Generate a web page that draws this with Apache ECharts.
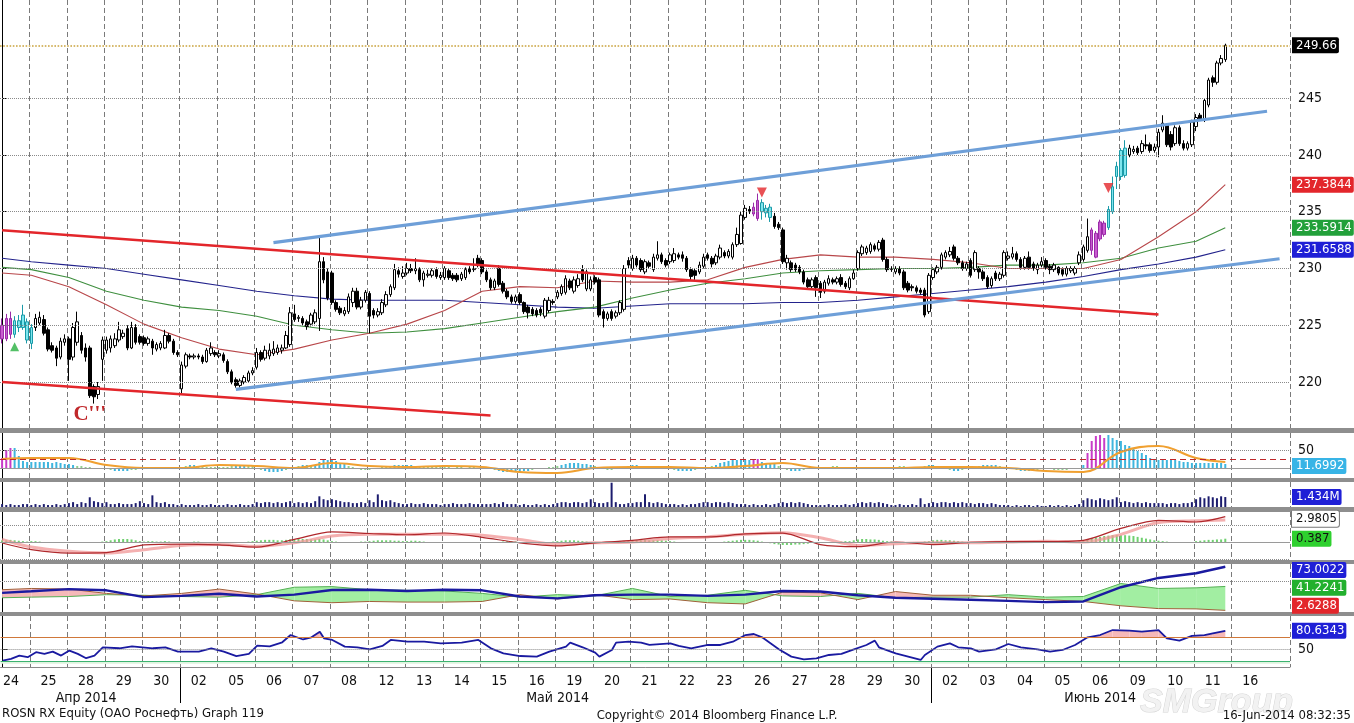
<!DOCTYPE html>
<html>
<head>
<meta charset="utf-8">
<title>ROSN RX Equity</title>
<script src="https://cdn.jsdelivr.net/npm/echarts/dist/echarts.min.js"></script>
<style>
html,body{margin:0;padding:0;background:#ffffff;overflow:hidden;}
#chart{width:1354px;height:723px;}
</style>
</head>
<body>
<div id="chart"></div>
<script>
// ================= DATA =================
const dayLabels = ['24','25','28','29','30','02','05','06','07','08','12','13','14','15','16','19','20','21','22','23','26','27','28','29','30','02','03','04','05','06','09','10','11','16'];
// [text, dayIndex, barInDay]
const monthMarks = [['Апр 2014', 2, 4], ['Май 2014', 15, 0], ['Июнь 2014', 29, 4]];
const monthBreakDays = [5, 25];

// hourly candles per trading day: [open, close, low, high]
const ohlc = [
[[225.0,223.8,223.4,225.6],[223.8,225.6,223.6,226.0],[225.6,224.2,223.8,226.2],[224.2,225.4,223.9,225.8],[225.4,224.8,224.4,225.9],[224.8,225.9,224.6,226.8],[225.3,223.7,223.4,225.6]],
[[223.4,224.8,222.9,225.1],[224.8,225.6,224.5,226.0],[225.2,225.7,225.0,226.2],[225.5,224.3,224.1,225.9],[224.6,222.9,222.7,224.8],[223.2,222.8,222.6,223.5],[223.0,222.1,221.4,223.2],[222.2,223.6,222.0,223.9],[223.5,223.8,223.2,224.2]],
[[223.8,222.0,220.1,224.0],[222.2,224.8,221.9,225.2],[223.5,225.3,223.2,226.2],[224.1,222.8,222.5,224.4],[223.0,222.2,221.8,223.4],[223.0,218.8,218.6,223.2],[219.6,218.7,218.1,219.8],[218.9,219.6,218.5,220.0],[222.0,223.7,220.1,224.0]],
[[222.8,223.7,222.5,224.0],[223.0,223.8,222.6,224.1],[223.2,223.8,223.0,224.3],[223.7,224.6,223.5,225.3],[224.0,224.3,223.8,224.6],[224.7,223.0,222.8,225.0],[223.0,224.8,222.9,225.3],[224.8,223.5,223.3,225.1],[224.0,223.5,223.3,224.2]],
[[223.9,223.4,223.2,224.1],[223.4,223.8,223.2,224.0],[223.6,223.0,222.4,223.8],[222.9,223.3,222.7,223.5],[223.0,223.4,222.8,223.6],[223.0,224.1,222.9,224.6],[224.1,223.6,223.4,224.3],[223.6,222.6,222.4,223.8],[222.6,222.4,222.2,222.8]],
[[219.4,221.5,219.0,221.8],[221.4,222.4,221.2,222.6],[222.3,222.2,222.0,222.5],[222.2,222.3,222.0,222.5],[222.3,222.2,222.0,222.5],[222.2,221.8,221.6,222.4],[221.8,222.8,221.7,223.0],[222.5,223.0,222.3,223.5],[222.6,222.4,222.2,222.8]],
[[222.3,222.5,222.1,222.8],[222.4,221.9,221.7,222.6],[221.8,220.9,220.7,222.0],[220.9,220.0,219.8,221.1],[220.2,219.7,219.5,220.4],[219.7,220.1,219.5,220.3],[220.0,220.4,219.8,220.6],[220.1,220.8,220.0,221.0],[220.8,221.0,220.6,221.3]],
[[221.3,222.6,221.1,223.0],[222.6,222.0,221.8,222.8],[222.1,222.8,221.9,223.2],[222.3,222.8,222.0,223.4],[222.5,222.9,222.3,223.6],[222.6,223.0,222.4,223.3],[222.8,223.0,222.5,223.3],[223.0,224.1,222.9,224.5],[223.3,226.1,223.1,226.6]],
[[226.0,225.5,225.3,226.8],[225.6,225.7,225.3,225.9],[225.6,225.2,225.0,225.8],[225.3,224.9,224.6,225.5],[225.1,225.9,224.9,226.1],[225.3,226.1,225.1,226.4],[225.6,230.6,224.5,232.8],[230.6,229.0,228.7,231.0],[229.7,227.4,227.2,230.0]],
[[229.6,227.0,226.8,229.8],[227.0,226.4,226.2,227.2],[226.5,226.1,225.9,226.7],[226.0,226.3,225.8,226.6],[226.2,227.5,226.0,227.8],[227.0,228.0,226.6,228.3],[228.0,226.6,226.4,228.3],[226.6,227.2,226.4,227.5],[227.2,227.9,227.0,228.1]],
[[227.8,225.8,224.3,228.0],[226.3,225.9,225.6,226.5],[225.9,226.2,225.7,226.5],[226.1,227.0,225.9,227.3],[226.8,227.7,226.6,228.0],[227.7,228.4,227.5,228.6],[228.3,229.9,228.1,230.4],[229.8,229.5,229.2,230.1],[229.3,229.6,229.1,230.2]],
[[229.6,230.0,229.4,230.5],[230.0,229.8,229.6,230.4],[229.8,230.0,229.5,230.9],[229.9,229.0,228.8,230.1],[229.0,229.6,228.4,229.8],[229.4,229.5,229.2,229.9],[229.4,229.8,229.2,230.0],[229.9,229.3,229.1,230.1],[229.2,229.4,229.0,229.7]],
[[229.2,230.0,229.0,230.2],[229.8,229.2,229.0,230.0],[229.4,229.1,228.9,229.6],[229.4,229.0,228.8,229.6],[229.1,229.5,228.9,229.7],[229.2,229.9,229.0,230.1],[230.0,229.7,229.5,230.2],[229.9,230.0,229.7,230.9],[230.9,230.3,230.1,231.2]],
[[230.7,229.7,229.5,230.9],[229.7,229.0,228.8,229.9],[229.0,228.3,228.1,229.2],[228.3,228.9,228.1,229.1],[230.0,228.6,228.4,230.3],[228.7,228.0,227.8,228.9],[228.0,227.5,227.3,228.2],[227.5,227.1,226.9,227.7],[227.1,227.5,226.9,227.7]],
[[227.7,227.0,226.8,227.9],[227.0,226.2,226.0,227.1],[226.6,226.1,225.6,226.8],[226.4,226.0,225.8,226.6],[226.3,225.9,225.7,226.5],[226.4,226.1,225.8,226.6],[225.8,227.2,225.6,227.4],[226.3,227.2,226.1,227.5],[227.1,227.0,226.8,227.3]],
[[227.5,227.9,227.3,228.1],[227.8,228.4,227.6,228.6],[227.9,229.1,227.7,229.4],[228.9,228.3,228.1,229.1],[228.0,229.0,227.8,229.3],[228.5,229.1,228.3,229.5],[229.9,229.0,228.8,230.3],[228.2,229.7,228.0,229.9],[228.2,229.0,228.0,229.3]],
[[229.2,228.8,228.6,229.4],[229.0,225.9,225.7,229.2],[226.2,225.6,224.8,226.4],[225.6,226.0,225.4,226.2],[226.2,225.6,225.4,226.4],[225.8,226.1,225.6,226.3],[226.1,227.0,225.9,227.2],[226.4,230.0,226.2,230.3],[230.7,230.3,230.0,231.0]],
[[230.0,230.9,229.8,231.2],[230.9,230.3,230.1,231.1],[230.7,229.9,229.7,230.9],[229.7,230.6,229.5,230.8],[230.5,230.2,230.0,230.7],[229.9,231.0,229.7,231.3],[230.9,231.2,230.7,232.4],[231.2,230.6,230.4,231.4],[230.7,230.3,230.1,230.9]],
[[230.6,231.2,230.4,231.4],[230.7,231.3,230.5,231.8],[231.2,231.0,230.8,231.4],[231.2,230.9,230.6,231.5],[230.9,229.9,229.7,231.1],[229.9,229.3,229.0,230.1],[229.8,229.4,229.0,230.0],[229.7,230.3,229.5,230.6],[230.2,231.0,230.0,231.3]],
[[231.2,230.9,230.7,231.4],[230.9,230.4,230.1,231.1],[230.5,231.1,230.3,231.3],[231.0,231.8,230.8,232.1],[231.4,231.1,230.9,231.6],[231.1,231.5,230.9,231.7],[231.0,232.1,230.8,232.3],[232.1,233.0,231.9,233.6],[232.2,234.7,232.1,235.0]],
[[234.5,235.3,234.3,235.6],[235.2,235.0,234.8,235.5],[234.8,235.4,234.6,235.8],[234.4,236.0,234.2,236.6],[235.8,235.0,234.3,236.1],[234.9,235.3,234.5,235.6],[235.4,234.5,234.1,235.7],[234.6,233.7,233.5,234.9],[233.9,233.6,233.4,234.1]],
[[233.4,230.6,230.4,233.6],[230.5,230.9,229.9,231.2],[230.5,229.9,229.7,230.7],[230.3,229.9,229.7,230.5],[230.1,229.7,229.5,230.3],[229.7,228.8,228.6,229.9],[229.0,228.4,228.2,229.2],[228.4,229.0,228.2,229.2],[229.2,228.3,227.5,229.4]],
[[228.7,227.9,227.4,228.9],[228.0,228.8,227.8,229.0],[228.7,229.1,228.5,229.4],[229.0,228.8,228.6,229.2],[228.8,229.1,228.6,229.3],[229.2,228.6,228.4,229.5],[228.7,228.4,228.2,228.9],[228.3,229.1,228.1,229.3],[229.1,229.6,229.0,229.9]],
[[230.0,231.4,229.8,231.6],[231.3,231.9,231.1,232.1],[231.4,231.8,231.2,232.0],[231.5,232.1,231.3,232.3],[232.0,231.7,231.5,232.2],[231.7,232.3,231.5,232.5],[232.5,230.8,230.6,232.7],[230.8,229.9,229.7,231.0],[229.9,230.0,229.7,230.2]],
[[229.7,230.0,229.5,230.2],[230.0,229.6,229.4,230.2],[229.7,228.3,228.1,229.9],[228.7,228.1,227.9,228.9],[228.4,228.3,228.0,228.6],[228.3,228.0,227.8,228.5],[228.1,227.9,227.7,228.3],[228.1,225.9,225.7,228.3],[226.2,229.4,226.0,229.6]],
[[229.2,229.9,229.0,230.1],[229.7,230.1,229.5,230.3],[230.1,231.2,229.9,231.4],[231.0,231.4,230.8,231.6],[231.2,231.5,231.0,231.9],[231.9,230.9,230.7,232.1],[230.9,230.5,230.3,231.1],[230.5,230.0,229.8,230.7],[230.0,230.4,229.8,230.6]],
[[230.7,229.4,229.2,230.9],[229.9,231.4,229.7,231.6],[230.0,229.7,229.1,230.2],[229.7,229.1,228.9,229.9],[229.2,228.4,228.2,229.4],[228.5,229.1,228.3,229.3],[229.6,229.1,228.9,229.8],[229.1,229.5,228.9,229.7],[229.4,231.4,229.2,231.6]],
[[230.9,231.1,230.7,231.5],[231.0,231.3,230.8,231.9],[231.3,230.8,230.6,231.5],[230.8,230.1,229.9,231.0],[230.1,230.9,229.9,231.1],[231.0,230.1,229.9,231.5],[230.4,230.0,229.8,230.6],[229.9,230.3,229.5,230.5],[230.3,230.6,230.1,231.0]],
[[230.7,230.1,229.9,230.9],[230.2,229.9,229.5,230.4],[229.9,230.3,229.7,230.5],[230.1,229.6,229.4,230.2],[229.9,229.5,229.3,230.1],[229.5,230.0,229.3,230.2],[229.8,230.0,229.6,230.2],[229.6,230.0,229.4,230.2],[230.5,231.2,230.3,231.5]],
[[230.8,231.9,230.6,232.1],[231.6,232.8,231.4,234.4],[233.4,231.6,231.2,233.6],[231.0,233.1,230.9,233.3],[232.6,234.1,232.4,234.3],[234.0,233.0,232.8,234.2],[233.6,235.2,233.4,235.5],[235.0,237.2,234.8,238.1],[239.0,238.1,237.0,239.4]],
[[238.1,240.4,237.8,240.6],[238.2,240.6,238.0,241.3],[240.0,240.6,239.8,240.9],[240.3,240.5,240.1,240.8],[240.6,240.2,240.0,240.8],[240.3,241.0,240.1,241.3],[240.9,240.8,240.5,241.8],[240.9,240.4,240.2,241.1],[240.4,240.7,240.2,241.0]],
[[240.7,242.0,239.8,242.3],[242.2,242.8,242.0,243.5],[242.6,240.9,240.7,242.8],[241.8,240.7,240.4,242.1],[241.0,242.4,240.8,242.6],[242.4,241.0,240.8,242.6],[241.0,240.6,240.4,241.3],[240.6,241.0,240.4,241.2],[240.9,242.9,240.7,243.1]],
[[242.5,243.3,242.1,243.6],[243.5,243.2,243.0,243.7],[243.1,244.8,242.9,245.0],[244.4,246.6,244.2,246.8],[246.8,246.4,246.0,247.0],[246.4,248.1,246.2,248.3],[248.1,248.5,247.9,248.8],[248.4,249.66,248.2,249.8]]
];

// volume, millions of shares per hourly bar
const volumeM = [
[0.42,0.28,0.42,0.28,0.28,0.42,0.42],
[0.28,0.42,0.28,0.42,0.28,0.28,0.42,0.28,0.42],
[0.56,0.7,0.42,0.7,0.56,1.4,0.84,0.7,0.56],
[0.7,0.42,0.42,0.56,0.42,0.42,0.42,0.56,0.84],
[0.56,0.42,1.68,0.7,0.56,0.7,0.42,0.42,0.28],
[0.42,0.28,0.28,0.28,0.42,0.28,0.28,0.42,0.28],
[0.28,0.28,0.42,0.28,0.28,0.42,0.28,0.28,0.42],
[0.7,0.56,0.7,0.7,0.56,0.7,0.56,0.7,0.84],
[0.56,0.7,0.56,0.7,0.56,0.84,1.54,1.12,0.98],
[1.12,0.98,0.84,0.7,0.7,0.56,0.56,0.7,0.56],
[0.98,0.7,1.82,0.98,0.84,0.98,0.7,0.56,0.42],
[0.42,0.56,0.42,0.42,0.56,0.42,0.42,0.42,0.28],
[0.42,0.42,0.56,0.42,0.42,0.42,0.56,0.42,0.42],
[0.42,0.42,0.42,0.56,0.42,0.7,0.42,0.42,0.42],
[0.28,0.42,0.28,0.28,0.42,0.28,0.42,0.28,0.42],
[0.56,0.7,0.7,0.56,0.7,0.7,0.56,0.7,1.12],
[0.7,0.56,0.56,0.7,3.5,0.7,0.42,0.42,0.56],
[0.56,0.7,0.7,1.82,0.7,0.56,0.7,0.56,0.42],
[0.42,0.42,0.28,0.42,0.28,0.42,0.42,0.56,0.7],
[0.7,0.56,0.7,0.7,0.56,0.7,0.56,0.42,0.42],
[0.42,0.28,0.42,0.28,0.28,0.42,0.28,0.42,0.56],
[0.7,0.56,0.7,0.56,0.7,0.56,0.42,0.28,0.28],
[0.28,0.28,0.42,0.28,0.28,0.28,0.42,0.28,0.42],
[0.56,0.7,0.56,0.7,0.56,0.7,0.56,0.42,0.28],
[0.28,0.42,0.28,0.28,0.42,0.28,1.26,0.42,0.56],
[0.7,0.56,0.7,0.7,0.56,0.7,0.56,0.7,0.56],
[0.56,0.42,0.56,0.56,0.42,0.56,0.42,0.28,0.28],
[0.28,0.14,0.28,0.14,0.28,0.28,0.14,0.28,0.14],
[0.14,0.28,0.14,0.28,0.14,0.28,0.14,0.28,0.42],
[0.98,1.26,1.12,0.98,1.26,1.12,0.98,1.12,1.4],
[0.7,0.84,0.7,0.56,0.7,0.56,0.7,0.56,0.56],
[0.56,0.56,0.42,0.56,0.56,0.42,0.56,0.56,0.7],
[1.12,1.4,1.26,1.54,1.4,1.26,1.54,1.434]
];

// trend-strength histogram (panel 2)
const trendHist = [
[10,18,20,20,12,7,6],
[6,6,6,6,6,5,6,5,4],
[4,3,2,2,1,1,0,-1,-1],
[-1,-2,-3,-3,-3,-3,-2,-2,-1],
[-1,1,1,-1,1,1,1,-1,1],
[1,2,3,3,2,1,1,1,1],
[1,1,1,2,3,3,3,2,2],
[-1,-2,-3,-4,-4,-4,-3,-2,-1],
[1,2,3,3,2,3,6,8,8],
[8,7,5,4,2,1,-1,-2,-2],
[-2,-1,0,1,1,2,3,3,3],
[3,3,2,1,1,1,1,1,1],
[1,1,0,1,1,0,1,1,0],
[0,-1,-1,-2,-3,-4,-4,-4,-4],
[-4,-3,-3,-2,-1,-1,0,1,1],
[2,3,4,5,5,5,4,4,3],
[2,1,-1,-2,-2,-1,0,1,2],
[3,3,2,1,1,1,0,0,-1],
[-1,-2,-3,-3,-3,-3,-2,-1,0],
[1,2,3,5,6,7,8,8,8],
[8,8,9,9,6,5,5,4,2],
[0,-2,-3,-3,-3,-2,-1,0,0],
[1,1,1,2,2,1,1,1,0],
[0,1,1,1,0,0,1,1,1],
[1,2,2,1,0,0,1,2,3],
[3,2,0,-1,-2,-3,-3,-2,-1],
[0,1,2,3,3,3,3,2,1],
[0,-1,-2,-3,-3,-3,-3,-2,-1],
[-1,-1,-2,-2,-2,-2,-1,-1,0],
[3,15,27,32,33,30,33,30,28],
[27,23,22,19,17,15,13,10,8],
[8,8,8,8,8,7,6,6,5],
[5,5,5,5,5,5,5,4]
];
const trendLastValue = 11.6992;

// MACD histogram (panel 4)
const macdHist = [
[0.2,0.2,0.25,0.2,0.15,0.1,0.05],
[0.1,0.1,0.05,0,0,0,0,0,0],
[0,0,0,0,0,0,0,0,0.05],
[0.1,0.2,0.3,0.35,0.35,0.35,0.3,0.2,0.1],
[0.05,0.1,0.1,0.05,0.05,0.1,0.05,0,0],
[0,0,0,0.05,0.05,0,0,0,0],
[0,0,0,0,0,0,0,0.05,0.1],
[0.15,0.2,0.25,0.25,0.25,0.2,0.2,0.25,0.3],
[0.3,0.35,0.35,0.35,0.3,0.3,0.35,0.3,0.2],
[0.1,0.05,0,0,0,0,0,0.05,0.05],
[0.1,0.15,0.2,0.2,0.2,0.2,0.15,0.15,0.1],
[0.1,0.15,0.15,0.1,0.05,0,0,0,0],
[0,0,0,0,0,0,0,0,0],
[0,0,0,0,0,0.05,0.1,0.1,0.05],
[0,0,0,0,0,0,0,0,0.05],
[0.1,0.15,0.2,0.2,0.2,0.15,0.1,0.05,0],
[0,0,0,0,0,0,0.05,0.1,0.1],
[0.15,0.2,0.2,0.25,0.2,0.2,0.2,0.2,0.15],
[0.1,0.05,0,0,0,0,0,0,0],
[0,0,0,0,0.05,0.1,0.15,0.2,0.25],
[0.25,0.25,0.2,0.15,0.05,-0.05,-0.15,-0.25,-0.3],
[-0.35,-0.35,-0.35,-0.3,-0.3,-0.25,-0.2,-0.1,-0.05],
[0,0,0,0,0,0.05,0.1,0.1,0.2],
[0.3,0.35,0.35,0.3,0.3,0.25,0.15,0.1,0.05],
[0,0,0,0,0,0,0,0.05,0.1],
[0.2,0.25,0.25,0.2,0.2,0.15,0.1,0.05,0],
[0,0,0,0,0,0,0,0,0],
[0,0,0,0,0,0,0,0,0],
[0,0,0,0,0,0,0,0,0.1],
[0.2,0.35,0.45,0.55,0.6,0.7,0.75,0.8,0.8],
[0.8,0.8,0.75,0.7,0.6,0.5,0.4,0.3,0.2],
[0.15,0.1,0.05,0,0,0,0,0,0],
[0.1,0.15,0.2,0.25,0.25,0.3,0.3,0.387]
];

// lines read at the start of each trading day, plus the last bar
const maRed   = [229.6,229.4,228.4,226.8,225.1,223.9,222.9,222.4,222.9,223.7,224.3,225.1,226.3,228.0,228.4,228.3,228.9,228.8,228.8,229.0,230.1,230.8,231.2,231.0,231.0,230.8,230.5,230.0,230.0,230.0,230.8,232.8,235.0,237.3844];
const maGreen = [230.1,229.9,229.2,228.0,227.2,226.6,226.3,225.8,225.0,224.6,224.3,224.4,224.7,225.2,225.7,226.2,226.6,227.4,228.1,228.7,229.1,229.6,229.8,229.9,230.0,230.0,230.1,230.3,230.3,230.5,230.9,231.8,232.4,233.5914];
const maBlue  = [230.9,230.6,230.3,230.0,229.5,229.0,228.5,228.0,227.6,227.3,227.2,227.2,227.2,227.0,226.8,226.6,226.5,226.7,226.9,226.9,226.9,227.0,227.0,227.2,227.5,227.8,228.1,228.4,228.8,229.3,229.9,230.4,231.0,231.6588];
const trendSignal = [9,10,10,3,0,0,3,2,0,5,2,1,2,1,-4,-5,0,1,1,0,2,5,0,0,0,1,1,0,-3,-4,16,22,10,6];
const macdLine   = [-0.12,-0.9,-1.3,-1.25,-0.35,-0.24,-0.35,-0.6,0.3,1.18,1.0,0.85,1.06,0.55,-0.1,-0.45,-0.1,0.2,0.6,0.6,0.95,1.05,-0.3,-0.55,0.0,-0.3,-0.05,0.05,0.05,0.2,1.6,2.55,2.35,2.9805];
const macdSignal = [0.3,-0.6,-1.1,-1.3,-0.9,-0.4,-0.3,-0.5,-0.1,0.7,0.9,0.9,0.9,0.8,0.3,-0.3,-0.1,0.0,0.4,0.6,0.9,1.1,0.5,-0.4,-0.2,-0.1,-0.1,0.0,0.1,0.0,0.9,2.3,2.5,2.59];
const adx     = [30.8,33.4,37,35,24,26,29.5,25,28,35.5,36,34,36,35,25,22,27,28,28,26,28,34,33,27,23,21.5,19.7,18,16,17,40,55,62.5,73.0022];
const diPlus  = [23,24,25,28,27,25,24,28,40,41,36,35,34,30,24,28,26,38,25,27,35,26,25,30,23,24,24,28,24,25,46,38,39,41.2241];
const diMinus = [36,38,37,30,26,30,37,29,18,15,17,16,16,17,28,21,28,20,21,15,13,32,31,20,33,27,27,23,20,17,10,5.5,5,2.6288];

// RSI: [bar index, value]
const rsiPoints = [[0,31.8],[2,34.6],[4,40],[6,37.3],[8,45.5],[10,42.8],[12,46.6],[14,40],[16,48.2],[18,42.8],[20,35.7],[22,40],[24,53.6],[28,52],[31,55.2],[36,52],[39,53.6],[42,46.6],[47,46.6],[50,52],[53,46.6],[56,39],[59,42.8],[61,56.3],[64,55.2],[67,61.8],[69,73.8],[72,66.4],[74,69.9],[76,79.2],[77,68.3],[79,65.6],[82,54.7],[85,53.6],[88,50.3],[91,55.8],[93,65.6],[97,62.8],[101,62.8],[105,60.1],[110,61.2],[114,65.6],[117,51.9],[120,43.7],[124,39.3],[128,38.3],[131,46.4],[135,54.7],[136,61.2],[139,53.6],[142,44.8],[143,38.3],[146,49.2],[147,61.2],[150,62.8],[153,61.2],[155,57.4],[160,60.1],[162,55.8],[165,51.9],[169,57.4],[172,57.4],[175,62.8],[178,73.7],[180,75.4],[182,69.9],[186,50.3],[189,38.3],[192,33.9],[195,35.6],[198,41],[201,42.7],[204,50.3],[207,57.4],[209,64.5],[210,53.6],[214,43.7],[217,38.3],[220,32.8],[221,41],[224,54.7],[227,60.1],[229,53.6],[232,51.9],[234,46.4],[238,50.3],[241,59],[244,53.6],[248,50.3],[251,46.4],[254,49.2],[257,57.4],[260,69.9],[263,73.7],[266,81.9],[270,80.8],[273,79.2],[277,81.9],[279,68.3],[282,64.5],[285,72.2],[288,73.7],[290,76.5],[293,80.6343]];

const priceTicks = [220,225,230,235,240,245];
const lastPrice = 249.66;
const rsiLevels = [30, 50, 70];
// [day, bar] highlighted bars
const tdMagenta = [[0,0],[0,1],[0,2],[20,2],[20,3],[29,2],[29,3],[29,4],[29,5]];
const tdCyan = [[0,3],[0,4],[0,5],[0,6],[1,0],[20,4],[20,5],[20,6],[29,6],[29,7],[29,8],[30,0],[30,1]];
const histMagenta = [[0,0],[0,1],[0,2],[20,2],[20,3],[29,1],[29,2],[29,3],[29,4],[29,5]];
// [day, bar, price]
const signalsUp = [[0,3,223.1]];
const signalsDown = [[20,4,236.7],[29,6,237.1]];
// hand-drawn trend lines: [[day,bar,price],[day,bar,price]]
const redLines = [[[0,0,233.37],[31,0,225.95]], [[0,0,220.0],[13,2,217.05]]];
const blueLines = [[[7,4,232.28],[33,8,243.85]], [[6,4,219.35],[34,2,230.86]]];
const waveLabel = ["C'''", 2, 5, 217.1];

// ================= BUILD =================
const F = "'Liberation Sans Narrow','DejaVu Sans Condensed','Liberation Sans',sans-serif";
const slotsPerDay = dayLabels.map((_, d) => d === 0 ? 7 : 9).concat([5]);
const dayStart = []; let acc = 0;
slotsPerDay.forEach(n => { dayStart.push(acc); acc += n; });
const nSlots = acc;
const cats = [];
slotsPerDay.forEach((n, d) => { for (let k = 0; k < n; k++) cats.push(d < dayLabels.length ? dayLabels[d] : ''); });
const idx = (d, b) => dayStart[d] + b;
const flat = a => [].concat(...a);
const nBars = flat(ohlc).length;
const lastBar = nBars - 1;
const sampleX = dayStart.slice(0, ohlc.length).concat([lastBar]);
const pts = arr => arr.map((v, i) => [sampleX[i], v]);
const last = arr => arr[arr.length - 1];

const labelSet = new Set(dayLabels.map((_, d) => dayStart[d] + (d === 0 ? 2 : 4)));
const gridSet = new Set(dayLabels.map((_, d) => dayStart[d]).filter(s => s > 0));
const monthMap = {}; monthMarks.forEach(m => { monthMap[idx(m[1], m[2])] = m[0]; });

const magSet = new Set(tdMagenta.map(p => idx(p[0], p[1])));
const cyanSet = new Set(tdCyan.map(p => idx(p[0], p[1])));
const hMagSet = new Set(histMagenta.map(p => idx(p[0], p[1])));

const candleData = flat(ohlc).map((r, i) => {
  if (magSet.has(i)) return {value: r, itemStyle: {color: '#c85ad0', color0: '#b03cc0', borderColor: '#9a2aa8', borderColor0: '#9a2aa8'}};
  if (cyanSet.has(i)) return {value: r, itemStyle: {color: '#7fe6ee', color0: '#27b8c8', borderColor: '#1a9aa8', borderColor0: '#1a9aa8'}};
  return r;
});
const trendHistData = flat(trendHist).map((v, i) => ({value: v, itemStyle: {color: hMagSet.has(i) ? '#c83cc8' : (Math.abs(v) <= 2 ? '#8fcf8f' : '#3fb6de')}}));

// segments for filled band between two lines: [x0, x1, a0, a1, b0, b1]
function bandSegs(xs, a, b) {
  const out = [];
  for (let i = 0; i < xs.length - 1; i++) out.push([xs[i], xs[i + 1], a[i], a[i + 1], b[i], b[i + 1]]);
  return out;
}
function bandRender(posColor, negColor) {
  return function (params, api) {
    const x0 = api.value(0), x1 = api.value(1), a0 = api.value(2), a1 = api.value(3), b0 = api.value(4), b1 = api.value(5);
    const d0 = a0 - b0, d1 = a1 - b1;
    const P = (x, y) => api.coord([x, y]);
    const polys = [];
    const add = (points, d) => { const c = d > 0 ? posColor : negColor; if (c) polys.push({type: 'polygon', shape: {points: points}, style: {fill: c}}); };
    if ((d0 >= 0 && d1 >= 0) || (d0 <= 0 && d1 <= 0)) {
      add([P(x0, a0), P(x1, a1), P(x1, b1), P(x0, b0)], d0 + d1);
    } else {
      const t = d0 / (d0 - d1);
      const xc = x0 + t * (x1 - x0), yc = a0 + t * (a1 - a0);
      add([P(x0, a0), P(xc, yc), P(x0, b0)], d0);
      add([P(xc, yc), P(x1, a1), P(x1, b1)], d1);
    }
    return {type: 'group', children: polys};
  };
}
const rsiX = rsiPoints.map(p => p[0]);
const rsiV = rsiPoints.map(p => p[1]);

const panels = [
  {top: 0, height: 428}, {top: 433, height: 45}, {top: 482, height: 25},
  {top: 512, height: 48}, {top: 564, height: 48}, {top: 616, height: 51}
];

function hline(v, color, type, width) { return {yAxis: v, lineStyle: {color: color, type: type, width: width}, label: {show: false}}; }
// value tag on the right axis; 'at' optionally moves the tag to keep it inside its panel
function tag(v, text, bg, fg, border, at) {
  return {yAxis: at === undefined ? v : at, lineStyle: {color: 'rgba(0,0,0,0)', width: 0, opacity: 1},
    label: {show: true, position: 'end', distance: 2, formatter: text, opacity: 1,
    backgroundColor: bg, color: fg, padding: [2, 2, 1, 4], fontSize: 13, fontFamily: F, borderRadius: [0, 2, 2, 0],
    borderColor: border || bg, borderWidth: border ? 1 : 0}};
}
function seg(line, color, width) {
  return [{coord: [idx(line[0][0], line[0][1]), line[0][2]], lineStyle: {color: color, width: width, type: 'solid'}, label: {show: false}},
          {coord: [idx(line[1][0], line[1][1]), line[1][2]]}];
}

const xCat = panels.map((p, i) => ({
  type: 'category', gridIndex: i, data: cats, boundaryGap: true,
  axisLine: {show: i === 5, lineStyle: {color: '#888'}}, axisTick: {show: false},
  axisLabel: i === 5 ? {show: true, interval: (k) => labelSet.has(k), formatter: (v) => v, fontSize: 14, color: '#111', fontFamily: F, margin: 7} : {show: false},
  splitLine: {show: true, interval: (k) => gridSet.has(k), lineStyle: {color: '#7a7a7a', type: [5, 3], width: 1}}
}));
const xVal = panels.map((p, i) => ({type: 'value', gridIndex: i, min: -0.5, max: nSlots - 0.5, show: false}));
const xMonth = {type: 'category', gridIndex: 5, data: cats, boundaryGap: true, position: 'bottom', offset: 17,
  axisLine: {show: false}, axisTick: {show: false}, splitLine: {show: false},
  axisLabel: {show: true, interval: (k) => monthMap[k] !== undefined, formatter: (v, k) => monthMap[k] || '', fontSize: 14, color: '#111', fontFamily: F, margin: 7}};

const yBase = {type: 'value', position: 'right', splitLine: {show: false}, axisLine: {show: true, lineStyle: {color: '#000'}},
  axisTick: {show: false}, axisLabel: {show: false}};
const yAxes = [
  Object.assign({}, yBase, {gridIndex: 0, min: 215.95, max: 253.65,
    axisTick: {show: true, customValues: priceTicks, length: 5, lineStyle: {color: '#000'}},
    axisLabel: {show: true, customValues: priceTicks, fontSize: 14, color: '#111', fontFamily: F, margin: 8}}),
  Object.assign({}, yBase, {gridIndex: 1, min: -10, max: 35,
    axisTick: {show: true, customValues: [18], length: 5, lineStyle: {color: '#000'}},
    axisLabel: {show: true, customValues: [18], formatter: () => '50', fontSize: 14, color: '#111', fontFamily: F, margin: 8}}),
  Object.assign({}, yBase, {gridIndex: 2, min: 0, max: 3.6}),
  Object.assign({}, yBase, {gridIndex: 3, min: -2.12, max: 3.53}),
  Object.assign({}, yBase, {gridIndex: 4, min: 0, max: 77.5}),
  Object.assign({}, yBase, {gridIndex: 5, min: 21.3, max: 104.9,
    axisTick: {show: true, customValues: [50], length: 5, lineStyle: {color: '#000'}},
    axisLabel: {show: true, customValues: [50], fontSize: 14, color: '#111', fontFamily: F, margin: 8}})
];

const mkLine = (data) => ({symbol: ['none', 'none'], silent: true, animation: false, label: {show: false}, data: data});
const lineS = (xi, yi, data, color, width, extra) => Object.assign({type: 'line', xAxisIndex: xi, yAxisIndex: yi, data: data,
  showSymbol: false, symbol: 'none', lineStyle: {color: color, width: width}, itemStyle: {color: color}, z: 3, silent: true}, extra || {});

const series = [
  {type: 'candlestick', xAxisIndex: 0, yAxisIndex: 0, data: candleData, barWidth: 3, z: 4,
    itemStyle: {color: '#ffffff', color0: '#000000', borderColor: '#000000', borderColor0: '#000000', borderWidth: 1},
    markLine: mkLine([].concat(
      priceTicks.map(v => hline(v, '#8a8a8a', 'dotted', 1)),
      [hline(lastPrice, '#c9a23c', 'dotted', 1.6), tag(lastPrice, lastPrice.toFixed(2), '#000000', '#ffffff')],
      redLines.map(l => seg(l, '#e3262b', 2.6)),
      blueLines.map(l => seg(l, '#6e9fd8', 3.2))
    )),
    markPoint: {symbol: 'circle', symbolSize: 1, itemStyle: {color: 'transparent'}, silent: true,
      label: {show: true, formatter: waveLabel[0], color: '#c0282b', fontSize: 21, fontWeight: 'bold', fontFamily: "'Liberation Serif','DejaVu Serif',serif"},
      data: [{coord: [idx(waveLabel[1], waveLabel[2]), waveLabel[3]]}]}
  },
  lineS(6, 0, pts(maBlue), '#23238c', 1.1, {markLine: mkLine([tag(last(maBlue), last(maBlue).toFixed(4), '#1f1fd6', '#ffffff')])}),
  lineS(6, 0, pts(maGreen), '#3f8f3f', 1.1, {markLine: mkLine([tag(last(maGreen), last(maGreen).toFixed(4), '#22a03a', '#ffffff')])}),
  lineS(6, 0, pts(maRed), '#b8474a', 1.1, {markLine: mkLine([tag(last(maRed), last(maRed).toFixed(4), '#e3262b', '#ffffff')])}),
  {type: 'scatter', xAxisIndex: 6, yAxisIndex: 0, data: signalsUp.map(s => [idx(s[0], s[1]), s[2]]), symbol: 'triangle', symbolSize: 9, itemStyle: {color: '#28b040'}, z: 5, silent: true},
  {type: 'scatter', xAxisIndex: 6, yAxisIndex: 0, data: signalsDown.map(s => [idx(s[0], s[1]), s[2]]), symbol: 'triangle', symbolRotate: 180, symbolSize: 10, itemStyle: {color: '#e3262b'}, z: 5, silent: true},

  {type: 'bar', xAxisIndex: 1, yAxisIndex: 1, data: trendHistData, barWidth: 2, silent: true,
    markLine: mkLine([hline(18, '#8a8a8a', 'dotted', 1), hline(9, '#c0282b', [6, 4], 1.2), hline(0, '#9a9a9a', 'solid', 1),
      tag(flat(trendHist)[lastBar], trendLastValue.toFixed(4), '#38b4e6', '#ffffff', undefined, 2)])},
  lineS(7, 1, pts(trendSignal), '#f0a030', 2.2, {smooth: 0.4}),

  {type: 'bar', xAxisIndex: 2, yAxisIndex: 2, data: flat(volumeM), barWidth: 2, itemStyle: {color: '#1c1c6e'}, silent: true,
    markLine: mkLine([tag(flat(volumeM)[lastBar], flat(volumeM)[lastBar].toFixed(3) + 'M', '#1f1fd6', '#ffffff')])},

  {type: 'bar', xAxisIndex: 3, yAxisIndex: 3, data: flat(macdHist), barWidth: 2, itemStyle: {color: '#70d070'}, silent: true,
    markLine: mkLine([hline(2, '#8a8a8a', 'dotted', 1), hline(-2, '#8a8a8a', 'dotted', 1), hline(0, '#9a9a9a', 'solid', 1),
      tag(last(macdLine), last(macdLine).toFixed(4), '#ffffff', '#111111', '#777777', 2.75),
      tag(flat(macdHist)[lastBar], flat(macdHist)[lastBar].toFixed(3), '#2ed02e', '#111111')])},
  lineS(9, 3, pts(macdSignal), 'rgba(240,150,150,0.75)', 3, {smooth: 0.3}),
  lineS(9, 3, pts(macdLine), '#b0282c', 1.2, {smooth: 0.3}),

  {type: 'custom', xAxisIndex: 10, yAxisIndex: 4, data: bandSegs(sampleX, diPlus, diMinus), encode: {x: [0, 1], y: [2, 3, 4, 5]},
    renderItem: bandRender('#a2eea2', '#f6b9b9'), silent: true, z: 1},
  lineS(10, 4, pts(diPlus), '#55b055', 1, {markLine: mkLine([hline(50, '#8a8a8a', 'dotted', 1),
      tag(last(diPlus), last(diPlus).toFixed(4), '#22b02e', '#ffffff', undefined, 39)])}),
  lineS(10, 4, pts(diMinus), '#a0603a', 1, {markLine: mkLine([tag(last(diMinus), last(diMinus).toFixed(4), '#e3262b', '#ffffff', undefined, 10)])}),
  lineS(10, 4, pts(adx), '#1a1aa0', 2.4, {markLine: mkLine([tag(last(adx), last(adx).toFixed(4), '#1f1fd6', '#ffffff', undefined, 68)])}),

  {type: 'custom', xAxisIndex: 11, yAxisIndex: 5, data: bandSegs(rsiX, rsiV, rsiX.map(() => rsiLevels[2])), encode: {x: [0, 1], y: [2, 3, 4, 5]},
    renderItem: bandRender('#f6b9b9', null), silent: true, z: 1},
  lineS(11, 5, rsiPoints, '#1a1aa0', 1.8, {
    markLine: mkLine([hline(rsiLevels[2], '#d0783a', 'solid', 1.2), hline(rsiLevels[0], '#3cb371', 'solid', 1.2), hline(rsiLevels[1], '#8a8a8a', 'dotted', 1),
      tag(last(rsiPoints)[1], last(rsiPoints)[1].toFixed(4), '#1f1fd6', '#ffffff')]),
    markArea: {silent: true, itemStyle: {color: '#dff3df'}, data: [[{yAxis: 26.5}, {yAxis: rsiLevels[0]}]]}})
];

const sepBars = [[428, 5], [478, 4], [507, 5], [560, 4], [612, 4]];
const baseGraphics = sepBars.map((s, i) => ({type: 'rect', id: 'sep' + i, shape: {x: 0, y: s[0], width: 1354, height: s[1]}, style: {fill: '#8e8e8e'}, z: 1, silent: true}))
  .concat([
    {type: 'text', id: 'wm', x: 1140, y: 686, style: {text: 'SMGroup', font: "italic bold 34px 'Liberation Sans', sans-serif", fill: '#f2f2f2', stroke: '#d4d4d4', lineWidth: 1}, z: 0, silent: true},
    {type: 'text', id: 'f1', x: 2, y: 707, style: {text: 'ROSN RX Equity (ОАО Роснефть) Graph 119', font: "13px " + F, fill: '#111'}, z: 5, silent: true},
    {type: 'text', id: 'f2', x: 717, y: 709, style: {text: 'Copyright© 2014 Bloomberg Finance L.P.', font: "13px " + F, fill: '#111', textAlign: 'center'}, z: 5, silent: true},
    {type: 'text', id: 'f3', x: 1351, y: 709, style: {text: '16-Jun-2014 08:32:35', font: "13px " + F, fill: '#111', textAlign: 'right'}, z: 5, silent: true}
  ]);

const chart = echarts.init(document.getElementById('chart'), null, {renderer: 'canvas', width: 1354, height: 723});
chart.setOption({
  animation: false,
  backgroundColor: '#ffffff',
  grid: panels.map(p => ({left: 0, right: 64, top: p.top, height: p.height})),
  xAxis: xCat.concat(xVal).concat([xMonth]),
  yAxis: yAxes,
  series: series,
  graphic: baseGraphics
});

// month separators at day boundaries, placed through the category axis
const monthLines = monthBreakDays.map((d, i) => {
  const s = dayStart[d];
  const a = chart.convertToPixel({xAxisIndex: 5}, s);
  const b = chart.convertToPixel({xAxisIndex: 5}, s - 1);
  const x = Math.round((a + b) / 2) + 0.5;
  return {type: 'line', id: 'mb' + i, shape: {x1: x, y1: 667, x2: x, y2: 703}, style: {stroke: '#000', lineWidth: 1}, silent: true};
});
chart.setOption({graphic: baseGraphics.concat(monthLines)});
</script>
</body>
</html>
